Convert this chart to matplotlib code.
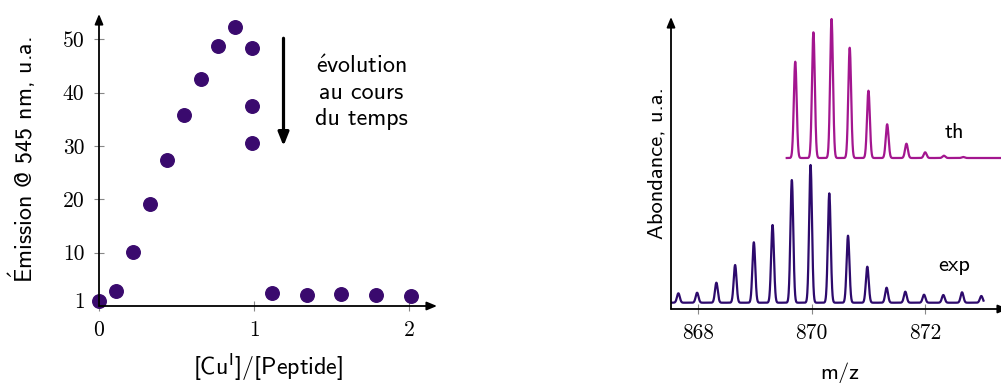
import numpy as np
import matplotlib
matplotlib.use("Agg")
import matplotlib.pyplot as plt

plt.rcParams['mathtext.fontset'] = 'cm'

# ---- left panel data: emission vs ratio ----
ratio = [0.0, 0.107, 0.219, 0.331, 0.441, 0.551, 0.66, 0.768, 0.88, 0.99, 0.99, 0.99,
         1.118, 1.34, 1.562, 1.786, 2.01]
emission = [1.0, 2.9, 10.2, 19.1, 27.4, 35.8, 42.5, 48.7, 52.3, 48.3, 37.5, 30.5,
            2.4, 2.1, 2.2, 2.1, 1.9]
x_ticks_l = [0, 1, 2]
y_ticks_l = [1, 10, 20, 30, 40, 50]

# ---- right panel data: isotopic patterns (peak centres m/z, heights u.a.) ----
th_mz = [869.71, 870.03, 870.35, 870.67, 871.0, 871.33, 871.67, 872.0, 872.33, 872.67]
th_h = [96.3, 125.7, 139.0, 110.3, 67.3, 33.7, 14.3, 5.7, 2.3, 1.0]
exp_mz = [867.65, 867.98, 868.32, 868.65, 868.98, 869.31, 869.65, 869.98, 870.31,
          870.64, 870.98, 871.32, 871.65, 871.98, 872.32, 872.65, 872.99]
exp_h = [9.4, 10.0, 20.0, 37.7, 60.4, 77.7, 122.7, 137.7, 109.4, 67.0, 36.0, 15.0,
         11.0, 8.0, 7.7, 10.4, 6.7]
th_offset = 144.7
x_ticks_r = [868, 870, 872]

dot_col = '#3a0a6e'
exp_col = '#2d0a6c'
th_col = '#a3168f'

W, H = 1001, 383
fig = plt.figure(figsize=(W / 100, H / 100), dpi=100)

serif = ['cmr10', 'DejaVu Serif']
sans = ['cmss10', 'DejaVu Sans']


def arrow_axes(ax):
    for s in ax.spines.values():
        s.set_visible(False)
    ax.annotate('', xy=(1, 0), xytext=(0, 0), xycoords='axes fraction',
                arrowprops=dict(arrowstyle='-|>,head_length=0.6,head_width=0.25',
                                lw=1.3, color='black', shrinkA=0, shrinkB=0))
    ax.annotate('', xy=(0, 1), xytext=(0, 0), xycoords='axes fraction',
                arrowprops=dict(arrowstyle='-|>,head_length=0.6,head_width=0.25',
                                lw=1.3, color='black', shrinkA=0, shrinkB=0))
    ax.tick_params(direction='inout', length=7, width=0.8, color='#888888',
                   labelsize=15.5, pad=7)
    for lab in ax.get_xticklabels() + ax.get_yticklabels():
        lab.set_family(serif)


# left axes: px 99..437 horizontally, 14..306 vertically
ax1 = fig.add_axes([99 / W, (H - 306) / H, (437 - 99) / W, (306 - 14) / H])
ax1.scatter(ratio, emission, s=95, color=dot_col, zorder=3, clip_on=False)
ax1.set_xlim(0, 2.18)
ax1.set_ylim(0, 54.75)
ax1.set_xticks(x_ticks_l)
ax1.set_yticks(y_ticks_l)
arrow_axes(ax1)
ax1.set_xlabel(r'[Cu$^{\mathsf{I}}$]/[Peptide]', family=sans, fontsize=17.3, labelpad=8)
ax1.set_ylabel(r'$\mathsf{\acute{E}}$mission @ 545 nm, u.a.', family=sans,
               fontsize=17.3, labelpad=18)
ax1.annotate('', xy=(1.19, 30.0), xytext=(1.19, 50.2),
             arrowprops=dict(arrowstyle='-|>,head_length=0.8,head_width=0.32',
                             lw=2.3, color='black', shrinkA=0, shrinkB=0))
ax1.text(1.69, 40.0, '$\\mathsf{\\acute{e}}$volution\nau cours\ndu temps', family=sans,
         fontsize=17.3, ha='center', va='center', linespacing=1.25)

# right axes: px 671..1008 horizontally, 17..309 vertically
ax2 = fig.add_axes([671 / W, (H - 309) / H, (1008 - 671) / W, (309 - 17) / H])
mz = np.linspace(867.52, 873.46, 3000)
sig = 0.025
exp_curve = np.zeros_like(mz)
for c, h in zip(exp_mz, exp_h):
    exp_curve += h * np.exp(-0.5 * ((mz - c) / sig) ** 2)
m_exp = mz <= 873.03
ax2.plot(mz[m_exp], exp_curve[m_exp], color=exp_col, lw=1.6)
th_curve = np.zeros_like(mz)
for c, h in zip(th_mz, th_h):
    th_curve += h * np.exp(-0.5 * ((mz - c) / sig) ** 2)
m_th = mz >= 869.56
ax2.plot(mz[m_th], th_curve[m_th] + th_offset, color=th_col, lw=1.6)
ax2.set_xlim(867.52, 873.46)
ax2.set_ylim(-6.3, 285.7)
ax2.set_xticks(x_ticks_r)
ax2.set_yticks([])
arrow_axes(ax2)
ax2.text(872.52, 170, 'th', family=sans, fontsize=16.2, ha='center', va='center')
ax2.text(872.52, 37, 'exp', family=sans, fontsize=16.2, ha='center', va='center')
ax2.set_xlabel('m/z', family=sans, fontsize=16.2, labelpad=14)
ax2.set_ylabel('Abondance, u.a.', family=sans, fontsize=16.2, labelpad=3)

fig.savefig('out.png', dpi=100)
